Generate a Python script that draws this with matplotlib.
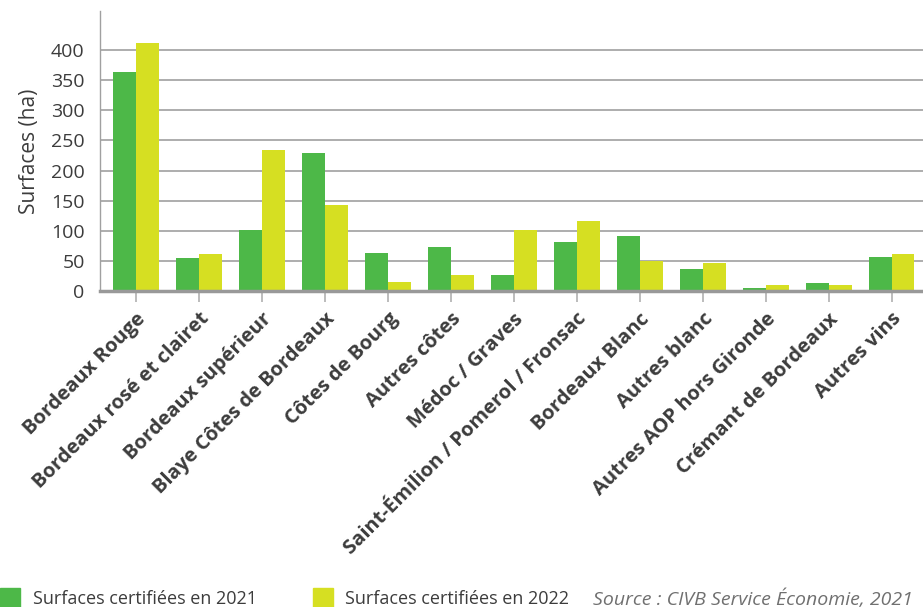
"""Surfaces certifiées par appellation, 2021 vs 2022 (bar chart)."""

import numpy as np
import matplotlib
matplotlib.use("Agg")
import matplotlib.pyplot as plt
from matplotlib.patches import Rectangle

plt.rcParams["font.family"] = ["Open Sans", "DejaVu Sans"]

categories = [
    "Bordeaux Rouge", "Bordeaux rosé et clairet", "Bordeaux supérieur",
    "Blaye Côtes de Bordeaux", "Côtes de Bourg", "Autres côtes",
    "Médoc / Graves", "Saint-Émilion / Pomerol / Fronsac", "Bordeaux Blanc",
    "Autres blanc", "Autres AOP hors Gironde", "Crémant de Bordeaux",
    "Autres vins",
]
surf_2021 = [363, 55, 101, 229, 63, 73, 27, 81, 91, 37, 5, 13, 56]
surf_2022 = [412, 61, 234, 143, 15, 27, 101, 116, 50, 46, 10, 10, 61]
yticks = [0, 50, 100, 150, 200, 250, 300, 350, 400]

GREEN = "#4DB848"
YELLOW = "#D6DF22"
TEXT = "#3c3c3c"

fig = plt.figure(figsize=(9.23, 6.07), dpi=100)
ax = fig.add_axes([100 / 923, 1 - 291 / 607, 823 / 923, 280 / 607])

x = np.arange(len(categories))
w = 0.365
ax.bar(x - w / 2, surf_2021, width=w, color=GREEN, zorder=3)
ax.bar(x + w / 2, surf_2022, width=w, color=YELLOW, zorder=3)

ax.set_xlim(-0.57, len(categories) - 0.5)
ax.set_ylim(0, 465)
ax.set_yticks(yticks)
ax.set_yticklabels([str(t) for t in yticks], fontsize=14, color=TEXT)
ax.tick_params(axis="y", length=0, pad=11)
ax.grid(axis="y", color="#a0a0a0", linewidth=1.2, zorder=1)

ax.set_xticks(x)
ax.set_xticklabels(categories, rotation=45, ha="right", rotation_mode="anchor",
                   fontsize=14.5, fontweight="bold", color=TEXT)
ax.tick_params(axis="x", length=8, width=1.2, color="#b0b0b0", pad=5)

for s in ["top", "right"]:
    ax.spines[s].set_visible(False)
ax.spines["left"].set_color("#a0a0a0")
ax.spines["left"].set_linewidth(1)
ax.spines["bottom"].set_color("#999999")
ax.spines["bottom"].set_linewidth(2.5)
ax.spines["bottom"].set_zorder(4)

ax.set_ylabel("Surfaces (ha)", fontsize=15, color=TEXT, labelpad=8)

# legend + source at the bottom
fig.add_artist(Rectangle((0, 0), 20 / 923, 19 / 607, transform=fig.transFigure,
                         color=GREEN))
fig.text(33 / 923, 8 / 607, "Surfaces certifiées en 2021", fontsize=13,
         color=TEXT, va="center")
fig.add_artist(Rectangle((313 / 923, 0), 20 / 923, 19 / 607,
                         transform=fig.transFigure, color=YELLOW))
fig.text(345 / 923, 8 / 607, "Surfaces certifiées en 2022", fontsize=13,
         color=TEXT, va="center")
fig.text(913 / 923, 8 / 607, "Source : CIVB Service Économie, 2021", fontsize=14,
         color="#707070", style="italic", va="center", ha="right")

fig.savefig("out.png", dpi=100)
